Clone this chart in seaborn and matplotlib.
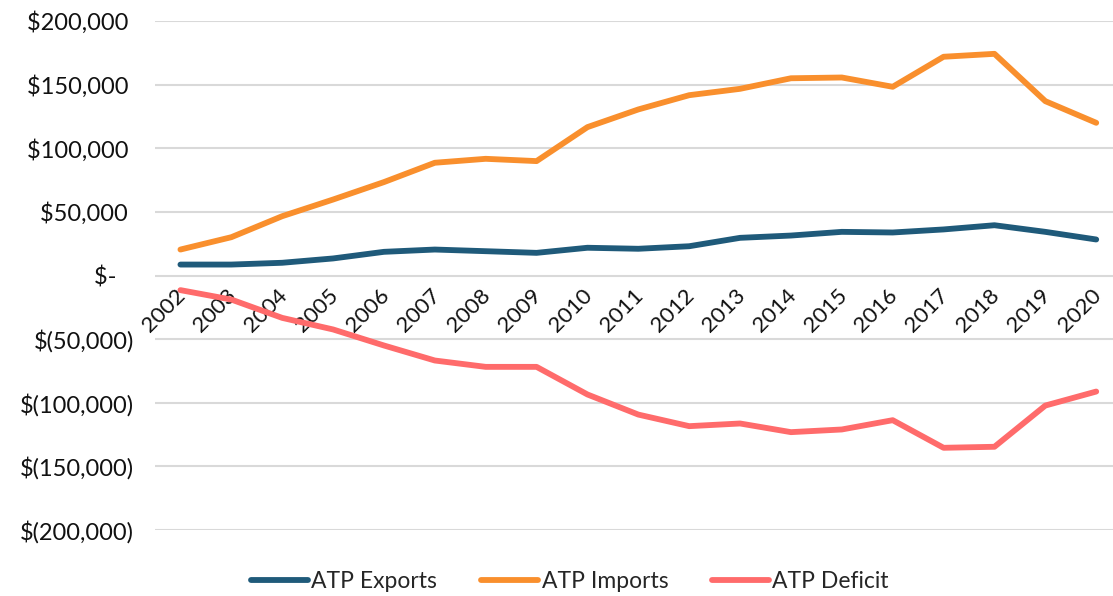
import matplotlib
matplotlib.use('Agg')
import matplotlib.pyplot as plt
import matplotlib.ticker as mticker
import seaborn as sns
import pandas as pd

# data (USD)
years = list(range(2002, 2021))
atp_exports = [8600, 8600, 10000, 13400, 18600, 20400, 19100, 17800, 21800, 21000,
               23000, 29600, 31400, 34300, 33800, 36200, 39500, 34300, 28300]
atp_imports = [20400, 30100, 46600, 59700, 73400, 88600, 91700, 89900, 116600, 130500,
               141700, 146700, 155000, 155600, 148300, 171900, 174200, 137000, 120000]
atp_deficit = [-11500, -18900, -33300, -42400, -55000, -66800, -71800, -71800, -93500, -109300,
               -118400, -116300, -123100, -121000, -113700, -135400, -134600, -102200, -91200]

series_names = ['ATP Exports', 'ATP Imports', 'ATP Deficit']
colors = ['#1f5a7a', '#f98f2d', '#ff6b6b']

df = pd.DataFrame({'Year': [str(y) for y in years],
                   'ATP Exports': atp_exports,
                   'ATP Imports': atp_imports,
                   'ATP Deficit': atp_deficit})
long_df = df.melt(id_vars='Year', var_name='Series', value_name='Value')
long_df['pos'] = long_df['Year'].astype(int) - years[0]

sns.set_style('white')
plt.rcParams['font.family'] = ['Lato', 'DejaVu Sans']

fig = plt.figure(figsize=(11.13, 5.96), dpi=100)
ax = fig.add_axes([155 / 1113, 1 - 530 / 596, (1113 - 155) / 1113, (530 - 21) / 596])

sns.lineplot(data=long_df, x='pos', y='Value', hue='Series', hue_order=series_names,
             palette=colors, linewidth=4.2, ax=ax, legend=True)
for line in ax.lines:
    line.set_solid_capstyle('round')

ax.set_ylim(-200000, 200000)
ax.set_xlim(-0.5, 18.33)
ax.set_yticks(range(-200000, 200001, 50000))
ax.yaxis.grid(True, color='#d9d9d9', linewidth=1.5)
ax.set_axisbelow(True)


def money(v, _):
    v = int(round(v))
    if v == 0:
        return '$-   '
    if v < 0:
        return f'$({-v:,})'
    return f'${v:,} '


ax.yaxis.set_major_formatter(mticker.FuncFormatter(money))
ax.tick_params(axis='y', labelsize=17, pad=15, length=0, labelcolor='#111111')

# x labels sit along the zero line
ax.set_xticks(range(len(years)))
ax.set_xticklabels([str(y) for y in years])
ax.spines['bottom'].set_position(('data', 0))
for s in ax.spines.values():
    s.set_visible(False)
ax.tick_params(axis='x', labelsize=16, length=0, pad=2, labelcolor='#111111')
shift = matplotlib.transforms.ScaledTranslation(2 / 100, -14 / 100, fig.dpi_scale_trans)
for lbl in ax.get_xticklabels():
    lbl.set_rotation(45)
    lbl.set_rotation_mode('anchor')
    lbl.set_ha('right')
    lbl.set_va('center')
    lbl.set_transform(lbl.get_transform() + shift)

ax.set_xlabel('')
ax.set_ylabel('')

handles, labels = ax.get_legend_handles_labels()
for h in handles:
    h.set_linewidth(4.2)
    h.set_solid_capstyle('round')
ax.legend(handles, labels, loc='center', bbox_to_anchor=(0.512, 0.025),
          bbox_transform=fig.transFigure,
          ncol=3, frameon=False, handlelength=2.5, handletextpad=0.15, columnspacing=1.9,
          prop={'size': 16.5})

fig.savefig('out.png', dpi=100)
